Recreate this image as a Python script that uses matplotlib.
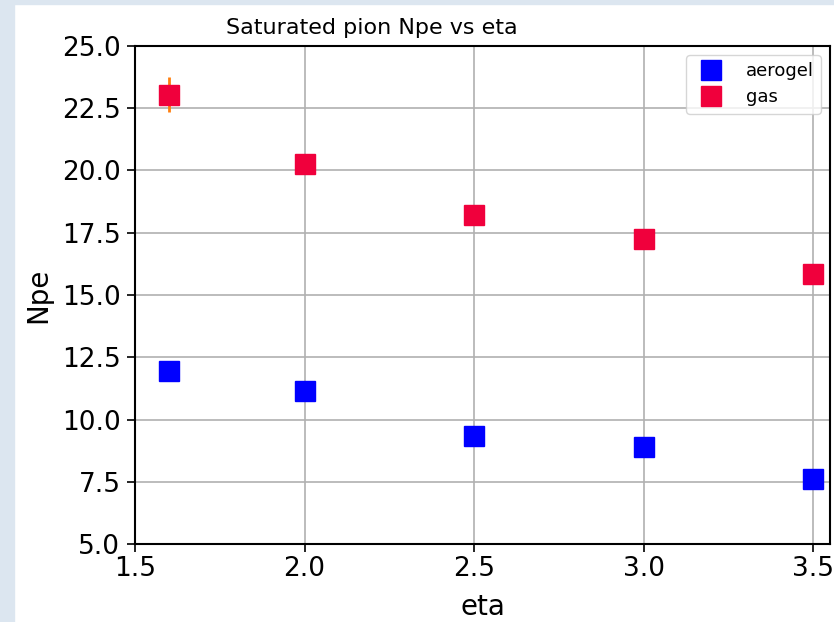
import matplotlib

matplotlib.use("Agg")
import matplotlib.pyplot as plt
from matplotlib.patches import Rectangle

# data
eta = [1.6, 2.0, 2.5, 3.0, 3.5]
npe_aerogel = [11.95, 11.15, 9.33, 8.9, 7.6]
npe_gas = [23.05, 20.27, 18.22, 17.23, 15.84]
err_gas = [0.72, 0.1, 0.1, 0.1, 0.1]
err_aerogel = [0.1, 0.1, 0.1, 0.1, 0.1]

fig = plt.figure(figsize=(8.34, 6.22), dpi=100)
fig.patch.set_facecolor("white")
# light page background peeking in on the left and top
fig.add_artist(Rectangle((0, 0), 14 / 834, 1, transform=fig.transFigure,
                         color="#dce6f0", zorder=-10))
fig.add_artist(Rectangle((0, 1 - 4 / 622), 1, 4 / 622, transform=fig.transFigure,
                         color="#dce6f0", zorder=-10))

ax = fig.add_axes([135 / 834, 1 - 544 / 622, (830 - 135) / 834, (544 - 46) / 622])

ax.errorbar(eta, npe_aerogel, yerr=err_aerogel, fmt="none", ecolor="#ff7f0e", lw=2, zorder=2)
ax.errorbar(eta, npe_gas, yerr=err_gas, fmt="none", ecolor="#ff7f0e", lw=2, zorder=2)
ax.plot(eta, npe_aerogel, "s", color="#0000ff", markersize=15, label="aerogel", zorder=3)
ax.plot(eta, npe_gas, "s", color="#f0003c", markersize=15, label="gas", zorder=3)

ax.set_xlim(1.5, 3.55)
ax.set_ylim(5.0, 25.0)
ax.set_xticks([1.5, 2.0, 2.5, 3.0, 3.5])
ax.set_yticks([5.0, 7.5, 10.0, 12.5, 15.0, 17.5, 20.0, 22.5, 25.0])
ax.tick_params(labelsize=19, width=1.2, length=5.5)
ax.tick_params(axis="y", pad=5)
ax.tick_params(axis="x", pad=3)
ax.grid(True, color="#b0b0b0", lw=1.2)
ax.set_axisbelow(True)
for s in ax.spines.values():
    s.set_linewidth(1.5)

ax.set_xlabel("eta", fontsize=20, labelpad=8)
ax.set_ylabel("Npe", fontsize=20, labelpad=7)
fig.text(372 / 834, 1 - 28 / 622, "Saturated pion Npe vs eta", fontsize=16,
         ha="center", va="center")

ax.legend(loc="upper right", fontsize=13, markerscale=1.0, borderpad=0.4,
          handletextpad=0.9, labelspacing=0.45)

fig.savefig("out.png", dpi=100)
